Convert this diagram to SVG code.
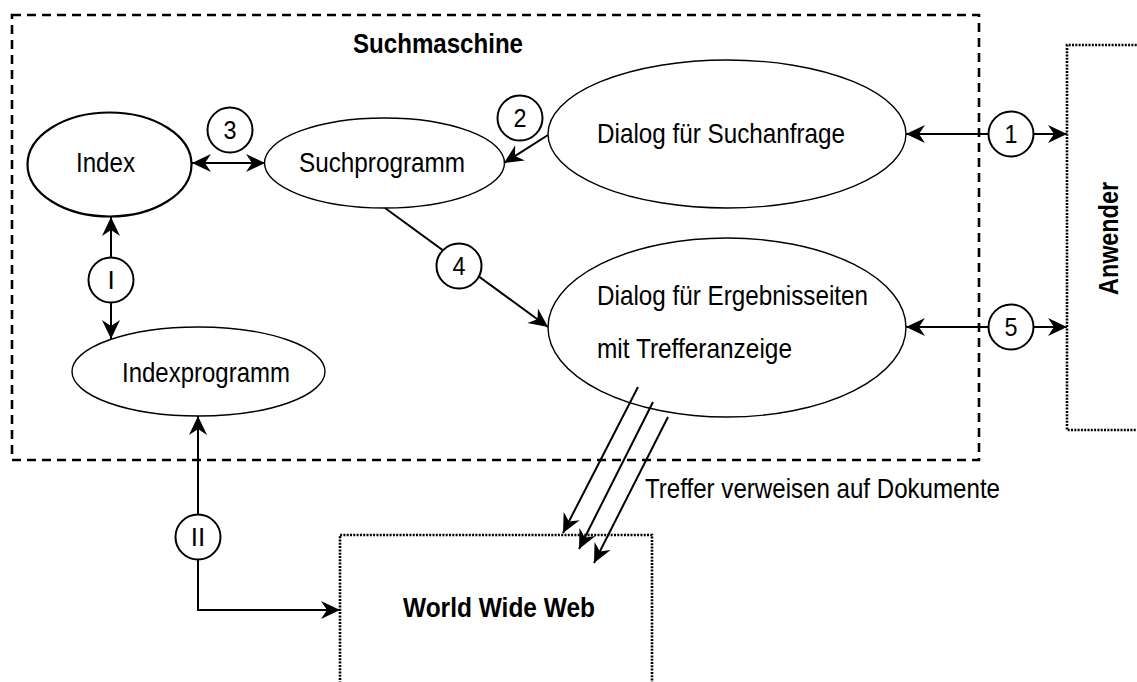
<svg xmlns="http://www.w3.org/2000/svg" width="1137" height="682" viewBox="0 0 1137 682">
<defs>
<style>
.t{font-family:"Liberation Sans Narrow","Liberation Sans",Arial,sans-serif;font-size:28px;fill:#000}
.b{font-weight:bold}
.n{font-family:"Liberation Sans Narrow","Liberation Sans",Arial,sans-serif;font-size:26px;fill:#000;text-anchor:middle}
.el{fill:#fff;stroke:#000;stroke-width:1.4}
.ln{fill:none;stroke:#000;stroke-width:2}
.ci{fill:#fff;stroke:#000;stroke-width:2}
.dot{fill:none;stroke:#000;stroke-width:2.6;stroke-dasharray:2 1.3}
</style>
<marker id="ah" markerUnits="userSpaceOnUse" markerWidth="22" markerHeight="20" viewBox="0 0 22 20" refX="20" refY="10" orient="auto-start-reverse">
<path d="M20,10 L1,1 L7,10 L1,19 Z" fill="#000"/>
</marker>
</defs>
<rect fill="#fff" x="0" y="0" width="1137" height="682"/>

<g id="suchmaschine">
<rect x="12" y="15" width="967" height="445" fill="none" stroke="#000" stroke-width="2.6" stroke-dasharray="9 6"/>
<text class="t b" x="353" y="53" textLength="170" lengthAdjust="spacingAndGlyphs">Suchmaschine</text>
</g>

<g id="anwender">
<path class="dot" d="M1140,45 H1067 V430 H1140"/>
<text class="t b" transform="translate(1118,295) rotate(-90)" x="0" y="0" textLength="113" lengthAdjust="spacingAndGlyphs">Anwender</text>
</g>

<g id="www">
<path class="dot" d="M340,690 V535 H652 V690"/>
<text class="t b" x="403" y="617" textLength="192" lengthAdjust="spacingAndGlyphs">World Wide Web</text>
</g>

<g id="index">
<ellipse cx="109.5" cy="164.5" rx="82" ry="52" fill="#fff" stroke="#000" stroke-width="2.2"/>
<text class="t" x="76" y="172" textLength="59" lengthAdjust="spacingAndGlyphs">Index</text>
</g>

<g id="suchprogramm">
<ellipse class="el" cx="384.5" cy="163" rx="120" ry="45"/>
<text class="t" x="299" y="172" textLength="166" lengthAdjust="spacingAndGlyphs">Suchprogramm</text>
</g>

<g id="dialog-suchanfrage">
<ellipse class="el" cx="727" cy="134" rx="179" ry="74"/>
<text class="t" x="597" y="143" textLength="248" lengthAdjust="spacingAndGlyphs">Dialog für Suchanfrage</text>
</g>

<g id="dialog-ergebnisseiten">
<ellipse class="el" cx="727" cy="327.5" rx="179" ry="89.5"/>
<text class="t" x="597" y="305" textLength="271" lengthAdjust="spacingAndGlyphs">Dialog für Ergebnisseiten</text>
<text class="t" x="597" y="358" textLength="195" lengthAdjust="spacingAndGlyphs">mit Trefferanzeige</text>
</g>

<g id="indexprogramm">
<ellipse class="el" cx="198.5" cy="371.5" rx="126.5" ry="44.5"/>
<text class="t" x="122" y="382" textLength="168" lengthAdjust="spacingAndGlyphs">Indexprogramm</text>
</g>

<g id="connectors">
<path class="ln" d="M192,163 H265" marker-start="url(#ah)" marker-end="url(#ah)"/>
<path class="ln" d="M548,135 L504,163" marker-end="url(#ah)"/>
<path class="ln" d="M906,134 H1067" marker-start="url(#ah)" marker-end="url(#ah)"/>
<path class="ln" d="M906,327 H1067" marker-start="url(#ah)" marker-end="url(#ah)"/>
<path class="ln" d="M385,208 L548,327" marker-end="url(#ah)"/>
<path class="ln" d="M111,217 V339" marker-start="url(#ah)" marker-end="url(#ah)"/>
<path class="ln" d="M198,416 V610 H340" marker-start="url(#ah)" marker-end="url(#ah)"/>
<path class="ln" d="M638,387 L563,533" marker-end="url(#ah)"/>
<path class="ln" d="M653,402 L579,549" marker-end="url(#ah)"/>
<path class="ln" d="M668,417 L594,563" marker-end="url(#ah)"/>
<text class="t" x="645" y="498" textLength="355" lengthAdjust="spacingAndGlyphs">Treffer verweisen auf Dokumente</text>
<circle class="ci" cx="230" cy="130" r="22.5"/>
<text class="n" x="230" y="139" textLength="13" lengthAdjust="spacingAndGlyphs">3</text>
<circle class="ci" cx="520" cy="118" r="22.5"/>
<text class="n" x="520" y="127" textLength="13" lengthAdjust="spacingAndGlyphs">2</text>
<circle class="ci" cx="1011" cy="134" r="22.5"/>
<text class="n" x="1011" y="143" textLength="13" lengthAdjust="spacingAndGlyphs">1</text>
<circle class="ci" cx="1011" cy="327" r="22.5"/>
<text class="n" x="1011" y="336" textLength="13" lengthAdjust="spacingAndGlyphs">5</text>
<circle class="ci" cx="459" cy="266" r="22.5"/>
<text class="n" x="459" y="275" textLength="13" lengthAdjust="spacingAndGlyphs">4</text>
<circle class="ci" cx="111" cy="280" r="22.5"/>
<text class="n" x="111" y="289">I</text>
<circle class="ci" cx="198" cy="537" r="22.5"/>
<text class="n" x="198" y="546">II</text>
</g>
</svg>
